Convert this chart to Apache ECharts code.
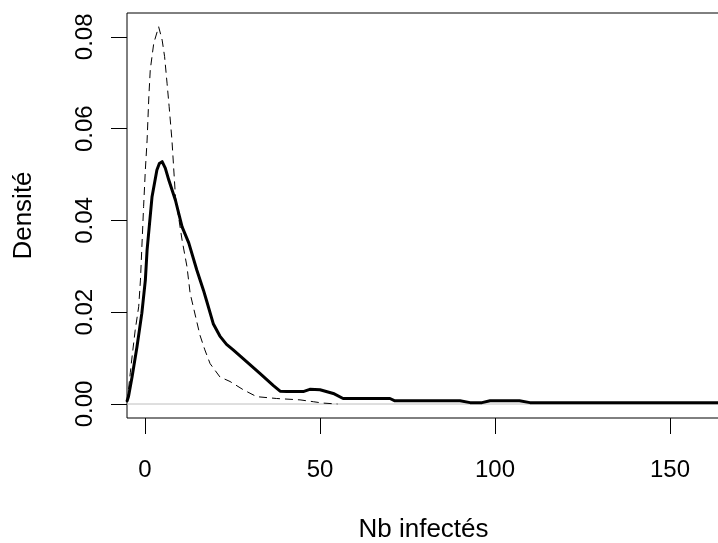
<!DOCTYPE html>
<html>
<head>
<meta charset="utf-8">
<script src="https://cdn.jsdelivr.net/npm/echarts@6/dist/echarts.min.js"></script>
<style>
html,body{margin:0;padding:0;background:#fff;}
#chart{width:718px;height:543px;}
</style>
</head>
<body>
<div id="chart"></div>
<script>
// Solid density curve (x, density)
const solidX = [-5.1, -4.7, -3.7, -2.3, -0.9, 0.1, 0.6, 2.0, 3.4, 4.1, 4.9, 5.8, 6.8, 8.7, 10.6, 12.5, 14.8, 16.7, 17.6, 19.5, 21.4, 23.3, 25.2, 29.1, 32.9, 36.7, 38.6, 40.5, 45.2, 47.1, 50.0, 53.8, 56.6, 70.0, 71.4, 90.0, 92.9, 96.3, 98.6, 107.0, 110.0, 164.3];
const solidY = [0.0007, 0.0017, 0.0059, 0.0124, 0.0198, 0.0270, 0.0336, 0.0451, 0.0510, 0.0524, 0.0528, 0.0514, 0.0488, 0.0444, 0.0386, 0.0351, 0.0292, 0.0248, 0.0225, 0.0175, 0.0148, 0.0130, 0.0118, 0.0092, 0.0066, 0.0040, 0.0028, 0.0027, 0.0027, 0.0032, 0.0031, 0.0023, 0.0012, 0.0012, 0.0007, 0.0007, 0.0003, 0.0003, 0.0007, 0.0007, 0.0003, 0.0003];
// Dashed density curve
const dashedX = [-5.1, -4.2, -3.8, -2.8, -1.8, -1.3, -0.4, 0.1, 0.6, 1.1, 1.5, 2.5, 3.9, 4.9, 5.6, 6.3, 6.9, 7.7, 8.7, 10.6, 12.0, 12.9, 15.7, 17.1, 18.6, 21.4, 24.3, 28.1, 31.9, 37.6, 44.3, 48.1, 50.9, 55.0];
const dashedY = [0.0004, 0.0068, 0.0096, 0.0161, 0.0212, 0.0270, 0.0430, 0.0510, 0.0575, 0.0670, 0.0728, 0.0786, 0.0822, 0.0793, 0.0757, 0.0699, 0.0648, 0.0575, 0.0452, 0.0357, 0.0299, 0.0241, 0.0150, 0.0118, 0.0088, 0.0059, 0.0049, 0.0031, 0.0016, 0.0012, 0.0009, 0.0005, 0.0002, 0.0000];
// Zero reference line
const zeroX = [-5.143, 164.3];
const zeroY = [0, 0];
// Tick values
const xTicks = [0, 50, 100, 150];
const yTicks = [0, 0.02, 0.04, 0.06, 0.08];
const xRange = [-5.143, 164.3];
const yRange = [-0.00305, 0.0852];

const zip = (a, b) => a.map((v, i) => [v, b[i]]);
const font = "'Liberation Sans', Arial, sans-serif";

const chart = echarts.init(document.getElementById('chart'), null, {renderer: 'canvas'});
chart.setOption({
  animation: false,
  backgroundColor: '#ffffff',
  grid: {left: 127, top: 13, right: -2, bottom: 125, show: true, borderColor: '#000', borderWidth: 1,
         backgroundColor: 'transparent', containLabel: false, outerBoundsMode: 'none'},
  xAxis: {
    type: 'value', min: xRange[0], max: xRange[1],
    name: 'Nb infectés', nameLocation: 'middle', nameGap: 99,
    nameTextStyle: {fontFamily: font, fontSize: 26, color: '#000'},
    axisLine: {show: false, onZero: false},
    splitLine: {show: false},
    axisTick: {show: true, inside: false, length: 16, customValues: xTicks, lineStyle: {color: '#000', width: 1}},
    axisLabel: {show: true, customValues: xTicks, margin: 40, fontFamily: font, fontSize: 24, color: '#000', formatter: v => String(v)}
  },
  yAxis: {
    type: 'value', min: yRange[0], max: yRange[1],
    name: 'Densité', nameLocation: 'middle', nameGap: 90, nameRotate: 90,
    nameTextStyle: {fontFamily: font, fontSize: 26, color: '#000'},
    axisLine: {show: false, onZero: false},
    splitLine: {show: false},
    axisTick: {show: true, inside: false, length: 16, customValues: yTicks, lineStyle: {color: '#000', width: 1}},
    axisLabel: {show: true, customValues: yTicks, rotate: 90, margin: 30, fontFamily: font, fontSize: 24, color: '#000', formatter: v => v.toFixed(2)}
  },
  series: [
    {type: 'line', data: zip(zeroX, zeroY), showSymbol: false, silent: true, z: 1,
     lineStyle: {color: '#bebebe', width: 1}},
    {type: 'line', data: zip(dashedX, dashedY), showSymbol: false, z: 2,
     lineStyle: {color: '#000', width: 1, type: [8, 5]}},
    {type: 'line', data: zip(solidX, solidY), showSymbol: false, z: 3,
     lineStyle: {color: '#000', width: 3, join: 'round', cap: 'round'}}
  ]
});
</script>
</body>
</html>
